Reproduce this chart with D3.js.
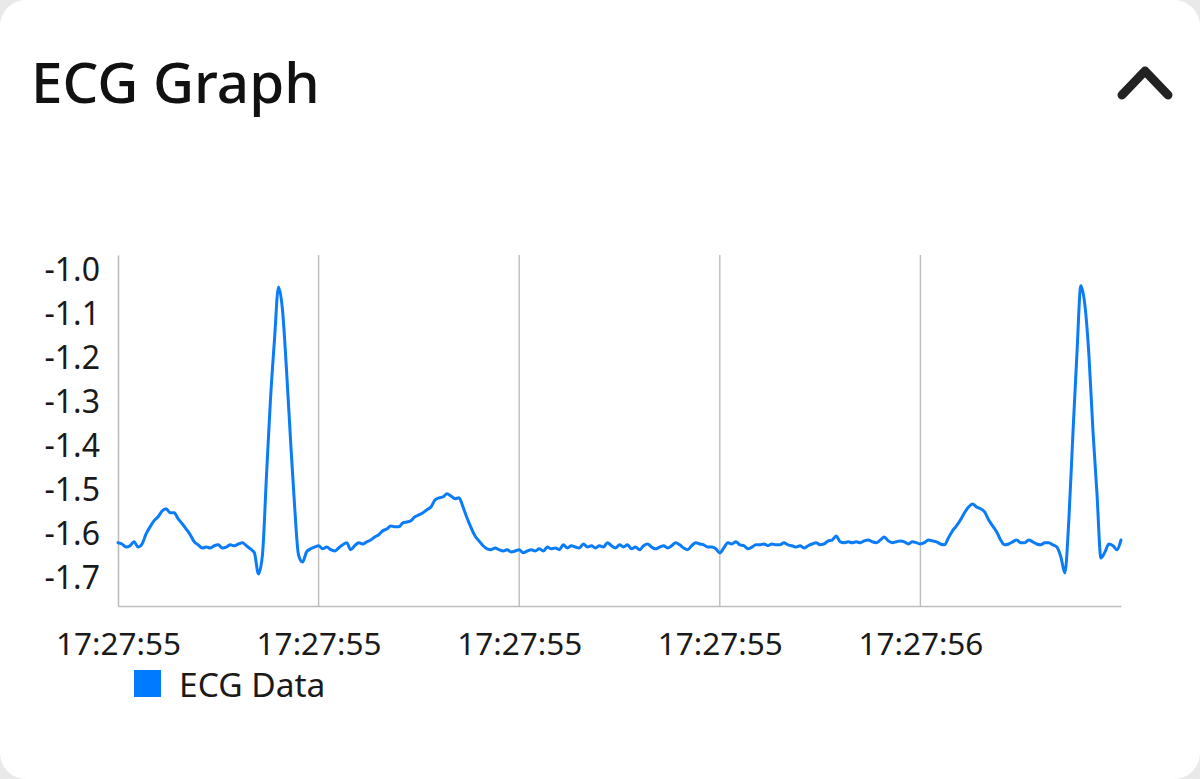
<!DOCTYPE html>
<html>
<head>
<meta charset="utf-8">
<script src="https://cdn.jsdelivr.net/npm/d3@7"></script>
<style>
  html, body { margin: 0; padding: 0; background: #e9e9e9; }
  body { width: 1200px; height: 779px; overflow: hidden; }
  svg { display: block; }
</style>
</head>
<body>
<svg id="chart" width="1200" height="779"></svg>
<script>
// ---- data ----
const chartTitle = "ECG Graph";
const seriesName = "ECG Data";
const startTime = new Date(2024, 0, 1, 17, 27, 55, 200);
const sampleIntervalMs = 4;
const ecgValues = [
  -1.620, -1.623, -1.630, -1.627, -1.618, -1.630, -1.623, -1.600, -1.584, -1.570,
  -1.561, -1.548, -1.543, -1.552, -1.552, -1.566, -1.577, -1.589, -1.602, -1.618,
  -1.625, -1.632, -1.630, -1.632, -1.627, -1.625, -1.632, -1.630, -1.625, -1.627,
  -1.623, -1.620, -1.627, -1.634, -1.643, -1.691, -1.648, -1.470, -1.295, -1.159,
  -1.039, -1.091, -1.227, -1.386, -1.534, -1.648, -1.664, -1.641, -1.634, -1.630,
  -1.627, -1.634, -1.630, -1.636, -1.639, -1.632, -1.625, -1.620, -1.636, -1.627,
  -1.620, -1.623, -1.618, -1.614, -1.607, -1.602, -1.593, -1.589, -1.582, -1.584,
  -1.584, -1.575, -1.573, -1.570, -1.561, -1.557, -1.552, -1.545, -1.539, -1.523,
  -1.518, -1.516, -1.509, -1.514, -1.520, -1.518, -1.539, -1.564, -1.586, -1.605,
  -1.616, -1.627, -1.634, -1.636, -1.632, -1.636, -1.639, -1.636, -1.641, -1.639,
  -1.636, -1.643, -1.639, -1.636, -1.639, -1.634, -1.639, -1.630, -1.634, -1.632,
  -1.636, -1.625, -1.632, -1.627, -1.630, -1.632, -1.623, -1.630, -1.627, -1.632,
  -1.627, -1.630, -1.620, -1.627, -1.632, -1.625, -1.630, -1.625, -1.634, -1.630,
  -1.636, -1.627, -1.623, -1.630, -1.634, -1.630, -1.627, -1.632, -1.627, -1.620,
  -1.625, -1.632, -1.636, -1.627, -1.620, -1.623, -1.625, -1.630, -1.630, -1.634,
  -1.643, -1.632, -1.620, -1.623, -1.618, -1.625, -1.627, -1.634, -1.630, -1.625,
  -1.625, -1.623, -1.627, -1.623, -1.625, -1.625, -1.620, -1.625, -1.627, -1.630,
  -1.627, -1.632, -1.627, -1.623, -1.620, -1.625, -1.623, -1.616, -1.614, -1.605,
  -1.618, -1.620, -1.618, -1.620, -1.618, -1.620, -1.616, -1.614, -1.618, -1.620,
  -1.614, -1.607, -1.616, -1.620, -1.618, -1.616, -1.618, -1.623, -1.618, -1.620,
  -1.623, -1.620, -1.614, -1.616, -1.618, -1.623, -1.625, -1.609, -1.593, -1.582,
  -1.568, -1.552, -1.539, -1.532, -1.539, -1.543, -1.550, -1.568, -1.582, -1.595,
  -1.614, -1.625, -1.623, -1.618, -1.614, -1.620, -1.620, -1.614, -1.618, -1.623,
  -1.625, -1.620, -1.620, -1.625, -1.630, -1.652, -1.689, -1.568, -1.375, -1.193,
  -1.036, -1.080, -1.193, -1.364, -1.507, -1.655, -1.641, -1.623, -1.627, -1.636,
  -1.614
];
const yTickValues = [-1.0, -1.1, -1.2, -1.3, -1.4, -1.5, -1.6, -1.7];
const yDomain = [-1.764, -0.966];
const xTickStepMs = 200;

// ---- drawing ----
const lineColor = "#0a7cf7";
const svg = d3.select("#chart");

// card
svg.append("rect").attr("x", 0).attr("y", 0).attr("width", 1200).attr("height", 779)
  .attr("rx", 26).attr("ry", 26).attr("fill", "#ffffff");

// title
svg.append("text").attr("x", 31).attr("y", 103)
  .attr("font-family", "Noto Sans, sans-serif").attr("font-size", 56.5).attr("font-weight", 500)
  .attr("fill", "#111").text(chartTitle);

// chevron
svg.append("path").attr("d", "M1122,95 L1145,71 L1168,95")
  .attr("fill", "none").attr("stroke", "#222").attr("stroke-width", 9)
  .attr("stroke-linecap", "round").attr("stroke-linejoin", "round");

const data = ecgValues.map((v, i) => ({ t: new Date(+startTime + i * sampleIntervalMs), v }));
const endTime = new Date(+startTime + (ecgValues.length - 1) * sampleIntervalMs);

const plot = { left: 118, right: 1121, top: 255, bottom: 606 };
const x = d3.scaleTime().domain([startTime, endTime]).range([plot.left, plot.right]);
const y = d3.scaleLinear().domain(yDomain).range([plot.bottom, plot.top]);

const xTicks = d3.timeMillisecond.every(xTickStepMs).range(startTime, endTime);
const fmt = d3.timeFormat("%H:%M:%S");
const labelFont = "Noto Sans, sans-serif";

// vertical grid lines
svg.append("g").selectAll("line").data(xTicks.slice(1)).join("line")
  .attr("x1", d => x(d)).attr("x2", d => x(d))
  .attr("y1", plot.top).attr("y2", plot.bottom)
  .attr("stroke", "#bdbdbd").attr("stroke-width", 1.4);

// axes using d3 axis generators
const xAxis = d3.axisBottom(x).tickValues(xTicks).tickFormat(fmt).tickSize(0).tickPadding(27);
const gx = svg.append("g").attr("transform", `translate(0,${plot.bottom})`).call(xAxis);
gx.select(".domain").attr("stroke", "#bdbdbd").attr("stroke-width", 1.6);
gx.selectAll("text").attr("font-family", labelFont).attr("font-size", 31.5).attr("fill", "#1a1a1a");

const yAxis = d3.axisLeft(y).tickValues(yTickValues).tickFormat(d3.format(".1f")).tickSize(0).tickPadding(18);
const gy = svg.append("g").attr("transform", `translate(${plot.left},0)`).call(yAxis);
gy.select(".domain").attr("stroke", "#bdbdbd").attr("stroke-width", 1.6);
gy.selectAll("text").attr("font-family", labelFont).attr("font-size", 32).attr("fill", "#1a1a1a")
  .text(d => d3.format(".1f")(d).replace("−", "-"));

// line
const line = d3.line().curve(d3.curveMonotoneX).x(d => x(d.t)).y(d => y(d.v));
svg.append("path").datum(data).attr("d", line)
  .attr("fill", "none").attr("stroke", lineColor).attr("stroke-width", 3)
  .attr("stroke-linejoin", "round").attr("stroke-linecap", "round");

// legend
svg.append("rect").attr("x", 134).attr("y", 670).attr("width", 27).attr("height", 27).attr("fill", "#007bff");
svg.append("text").attr("x", 179).attr("y", 697)
  .attr("font-family", labelFont).attr("font-size", 33.5).attr("fill", "#1a1a1a").text(seriesName);
</script>
</body>
</html>
